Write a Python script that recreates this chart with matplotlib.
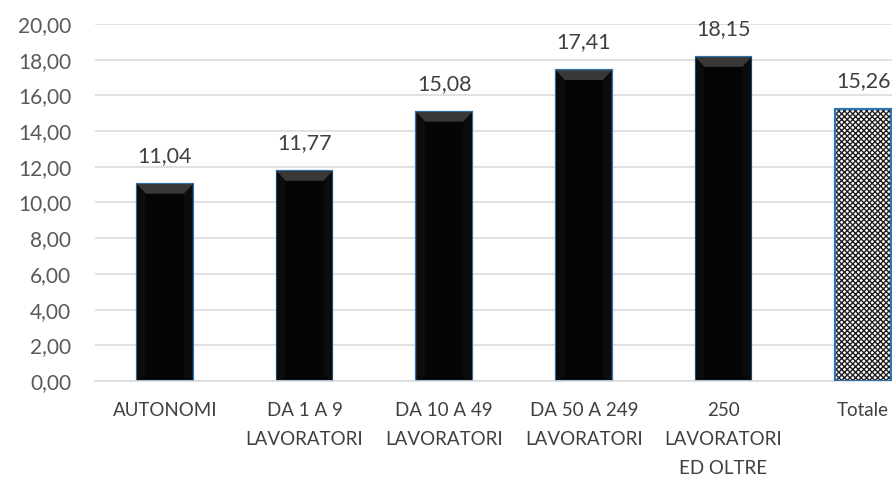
import matplotlib
matplotlib.use("Agg")
import matplotlib.pyplot as plt
from matplotlib.patches import Polygon

categories = ["AUTONOMI", "DA 1 A 9\nLAVORATORI", "DA 10 A 49\nLAVORATORI",
              "DA 50 A 249\nLAVORATORI", "250\nLAVORATORI\nED OLTRE", "Totale"]
values = [11.04, 11.77, 15.08, 17.41, 18.15, 15.26]
yticks = [0, 2, 4, 6, 8, 10, 12, 14, 16, 18, 20]

plt.rcParams["font.family"] = ["Lato", "DejaVu Sans"]

W, H = 892, 479
fig = plt.figure(figsize=(W / 100, H / 100), dpi=100)
left, right, bottom, top = 95, 933, 381, 24
ax = fig.add_axes([left / W, 1 - bottom / H, (right - left) / W, (bottom - top) / H])

x = list(range(len(categories)))
bw = 0.40
edge = "#2E75B6"

for i, v in enumerate(values):
    if categories[i] == "Totale":
        ax.bar(i, v, width=bw, color="white", edgecolor="#1f1f1f", hatch="xxxxxx",
               linewidth=0, zorder=2)
        ax.bar(i, v, width=bw, color="none", edgecolor=edge, linewidth=1.6, zorder=3)
    else:
        ax.bar(i, v, width=bw, color="#050505", edgecolor=edge, linewidth=1.6, zorder=2)
        # bevel highlight along the top edge of the bar
        x0, x1 = i - bw / 2, i + bw / 2
        dx = bw * 0.16
        dy = 0.55
        ax.add_patch(Polygon([(x0, v), (x1, v), (x1 - dx, v - dy), (x0 + dx, v - dy)],
                             closed=True, facecolor="#383838", edgecolor="none", zorder=2.5))
        ax.add_patch(Polygon([(x0, v), (x0 + dx, v - dy), (x0 + dx, dy * 0.5), (x0, 0)],
                             closed=True, facecolor="#0c0c0c", edgecolor="none", zorder=2.4))
        ax.add_patch(Polygon([(x1, v), (x1 - dx, v - dy), (x1 - dx, dy * 0.5), (x1, 0)],
                             closed=True, facecolor="#0c0c0c", edgecolor="none", zorder=2.4))
    ax.text(i, v + 1.0, f"{v:.2f}".replace(".", ","), ha="center", va="bottom",
            fontsize=15.5, color="#404040")

ax.set_xlim(-0.5, len(categories) - 0.5)
ax.set_ylim(0, 20)
ax.set_yticks(yticks)
ax.set_yticklabels([f"{t:.2f}".replace(".", ",") for t in yticks])
ax.set_xticks(x)
ax.set_xticklabels(categories, linespacing=1.87)
ax.tick_params(axis="y", length=0, pad=17, labelsize=15, labelcolor="#595959")
ax.tick_params(axis="x", length=0, pad=15, labelsize=13.5, labelcolor="#404040")
ax.grid(axis="y", color="#d9d9d9", linewidth=1.1, zorder=0)
ax.set_axisbelow(True)
for s in ["top", "right", "left"]:
    ax.spines[s].set_visible(False)
ax.spines["bottom"].set_color("#d9d9d9")
ax.spines["bottom"].set_linewidth(1.1)

fig.savefig("out.png", dpi=100)
